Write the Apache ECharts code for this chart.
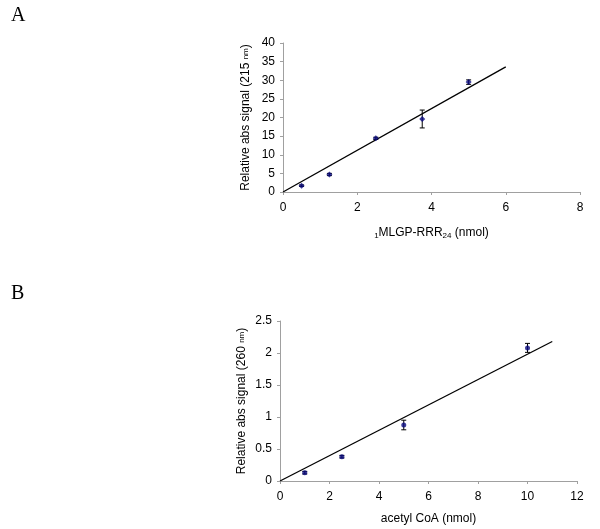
<!DOCTYPE html>
<html><head><meta charset="utf-8">
<script src="https://cdn.jsdelivr.net/npm/echarts@6/dist/echarts.min.js"></script>
<style>html,body{margin:0;padding:0;background:#fff}#c{width:600px;height:529px}</style>
</head><body><div id="c"></div>
<script>
// Panel A data
const aX = [0.5, 1.25, 2.5, 3.75, 5];
const aY = [1.7, 4.7, 14.4, 19.6, 29.5];
const aErr = [0.2, 0.3, 0.3, 2.4, 0.6];
const aTrend = [[0, 0], [6, 33.6]];
const aXTicks = [0, 2, 4, 6, 8];
const aYTicks = [0, 5, 10, 15, 20, 25, 30, 35, 40];
// Panel B data
const bX = [1, 2.5, 5, 10];
const bY = [0.13, 0.38, 0.875, 2.08];
const bErr = [0.02, 0.02, 0.075, 0.07];
const bTrend = [[0, 0], [11, 2.18]];
const bXTicks = [0, 2, 4, 6, 8, 10, 12];
const bYTicks = [0, 0.5, 1, 1.5, 2, 2.5];

const font = 'Liberation Sans, Arial, sans-serif';
const navy = '#0a0a80';
const axisGrey = '#a0a0a0';

function errBar(params, api) {
  const x = api.value(0), y = api.value(1), e = api.value(2);
  const top = api.coord([x, y + e]);
  const bot = api.coord([x, y - e]);
  const w = 2.5;
  const st = { stroke: '#000', lineWidth: 1 };
  return { type: 'group', children: [
    { type: 'line', shape: { x1: top[0], y1: top[1], x2: bot[0], y2: bot[1] }, style: st },
    { type: 'line', shape: { x1: top[0] - w, y1: top[1], x2: top[0] + w, y2: top[1] }, style: st },
    { type: 'line', shape: { x1: bot[0] - w, y1: bot[1], x2: bot[0] + w, y2: bot[1] }, style: st }
  ]};
}

function xAxisCfg(idx, ticks, nameRich, nameGap) {
  return {
    type: 'value', gridIndex: idx, min: ticks[0], max: ticks[ticks.length - 1],
    interval: ticks[1] - ticks[0],
    axisLine: { show: true, onZero: false, lineStyle: { color: axisGrey, width: 1 } },
    axisTick: { show: true, inside: false, length: 3, lineStyle: { color: axisGrey } },
    axisLabel: { color: '#000', fontFamily: font, fontSize: 12, margin: 10 },
    splitLine: { show: false },
    name: nameRich, nameLocation: 'middle', nameGap: nameGap,
    nameTextStyle: { color: '#000', fontFamily: font, fontSize: 12,
      rich: { sub: { fontSize: 8, verticalAlign: 'bottom', padding: [6, 0, 0, 0], fontFamily: font, color: '#000' } } }
  };
}
function yAxisCfg(idx, ticks, nameRich, nameGap) {
  return {
    type: 'value', gridIndex: idx, min: ticks[0], max: ticks[ticks.length - 1],
    interval: ticks[1] - ticks[0],
    axisLine: { show: true, onZero: false, lineStyle: { color: axisGrey, width: 1 } },
    axisTick: { show: true, inside: false, length: 3, lineStyle: { color: axisGrey } },
    axisLabel: { color: '#000', fontFamily: font, fontSize: 12, margin: 8 },
    splitLine: { show: false },
    name: nameRich, nameLocation: 'middle', nameGap: nameGap, nameRotate: 90,
    nameTextStyle: { color: '#000', fontFamily: font, fontSize: 12,
      rich: { sub: { fontSize: 8, fontFamily: font, color: '#000' } } }
  };
}

const chart = echarts.init(document.getElementById('c'), null, { renderer: 'canvas' });
chart.setOption({
  animation: false,
  backgroundColor: '#fff',
  grid: [
    { left: 283, top: 43, width: 297, height: 149 },
    { left: 280, top: 321, width: 297, height: 160 }
  ],
  graphic: [
    { type: 'text', left: 11, top: 6, style: { text: 'A', font: '20px "Liberation Serif", "DejaVu Serif", serif', fill: '#000' } },
    { type: 'text', left: 11, top: 284, style: { text: 'B', font: '20px "Liberation Serif", "DejaVu Serif", serif', fill: '#000' } }
  ],
  xAxis: [
    xAxisCfg(0, aXTicks, '{sub|1}MLGP-RRR{sub|24} (nmol)', 34),
    xAxisCfg(1, bXTicks, 'acetyl CoA (nmol)', 32)
  ],
  yAxis: [
    yAxisCfg(0, aYTicks, 'Relative abs signal (215 {sub|nm})', 31),
    yAxisCfg(1, bYTicks, 'Relative abs signal (260 {sub|nm})', 32)
  ],
  series: [
    { type: 'line', xAxisIndex: 0, yAxisIndex: 0, data: aTrend, symbol: 'none',
      lineStyle: { color: '#000', width: 1.3 }, z: 2 },
    { type: 'custom', xAxisIndex: 0, yAxisIndex: 0, renderItem: errBar,
      data: aX.map((x, i) => [x, aY[i], aErr[i]]), z: 3 },
    { type: 'scatter', xAxisIndex: 0, yAxisIndex: 0, symbol: 'diamond', symbolSize: 6,
      itemStyle: { color: navy }, data: aX.map((x, i) => [x, aY[i]]), z: 4 },
    { type: 'line', xAxisIndex: 1, yAxisIndex: 1, data: bTrend, symbol: 'none',
      lineStyle: { color: '#000', width: 1.3 }, z: 2 },
    { type: 'custom', xAxisIndex: 1, yAxisIndex: 1, renderItem: errBar,
      data: bX.map((x, i) => [x, bY[i], bErr[i]]), z: 3 },
    { type: 'scatter', xAxisIndex: 1, yAxisIndex: 1, symbol: 'circle', symbolSize: 5,
      itemStyle: { color: navy }, data: bX.map((x, i) => [x, bY[i]]), z: 4 }
  ]
});
</script></body></html>
